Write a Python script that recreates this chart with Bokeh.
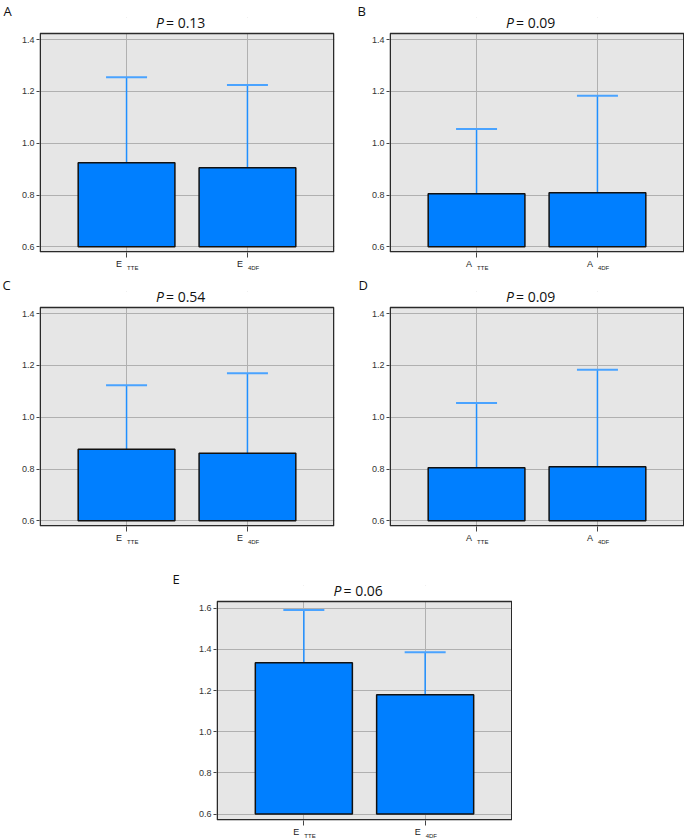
from bokeh.plotting import figure
from bokeh.models import (FactorRange, Range1d, FixedTicker, PrintfTickFormatter,
                          Label, Whisker, TeeHead, ColumnDataSource, BoxAnnotation)
from bokeh.layouts import column, row
from bokeh.embed import file_html
from bokeh.resources import INLINE

# ---------------- data ----------------
panel_letters = ["A", "B", "C", "D", "E"]
p_values = ["0.13", "0.09", "0.54", "0.09", "0.06"]

a_groups = ["E", "E"]
a_subs = ["TTE", "4DF"]
a_means = [0.925, 0.905]
a_upper = [1.255, 1.225]

b_groups = ["A", "A"]
b_subs = ["TTE", "4DF"]
b_means = [0.805, 0.809]
b_upper = [1.055, 1.184]

c_groups = ["E", "E"]
c_subs = ["TTE", "4DF"]
c_means = [0.876, 0.861]
c_upper = [1.124, 1.170]

d_groups = ["A", "A"]
d_subs = ["TTE", "4DF"]
d_means = [0.805, 0.809]
d_upper = [1.055, 1.184]

e_groups = ["E", "E"]
e_subs = ["TTE", "4DF"]
e_means = [1.335, 1.180]
e_upper = [1.592, 1.386]

ticks_small = [0.6, 0.8, 1.0, 1.2, 1.4]
ticks_large = [0.6, 0.8, 1.0, 1.2, 1.4, 1.6]

# ---------------- styles ----------------
BAR_FILL = "#007fff"
WHISKER = "#1f8fff"
CAP = "#4aa3ff"
FRAME_BG = "#e6e6e6"
GRID = "#b0b0b0"
TEXT = "#222222"
TITLE_FONT = "Open Sans"
TICK_FONT = "Liberation Sans"

TOP = 17        # space above frame (panel letter)
HEADER = 16     # part of frame above the plot area (title "P = ...")
BOTTOM = 6      # x tick marks


def blank_fig(width, height, x_range, bl, br):
    f = figure(width=width, height=height, x_range=x_range,
               y_range=Range1d(0, height), title=None,
               x_axis_location=None, y_axis_location=None,
               output_backend="svg", toolbar_location=None,
               min_border_left=bl, min_border_right=br,
               min_border_top=0, min_border_bottom=0)
    f.outline_line_color = None
    f.background_fill_color = None
    f.border_fill_color = "white"
    f.grid.visible = False
    return f


def make_panel(letter, pval, groups, subs, means, upper, ticks, plot_range,
               bl, br, plot_w, plot_h, footer_h, letter_dx):
    factors = [f"{g}_{s}" for g, s in zip(groups, subs)]
    y0, y1 = plot_range
    ppu = plot_h / (y1 - y0)
    y_end = y1 + HEADER / ppu
    frame_h = plot_h + HEADER
    width = bl + plot_w + br
    x_range = FactorRange(factors=factors, range_padding=0.22)

    p = figure(x_range=x_range, y_range=Range1d(y0, y_end),
               width=width, height=TOP + frame_h + BOTTOM, title=letter,
               output_backend="svg", toolbar_location=None,
               min_border_left=bl, min_border_right=br,
               min_border_top=TOP, min_border_bottom=BOTTOM)
    p.background_fill_color = "white"
    p.border_fill_color = "white"
    p.outline_line_color = None

    # panel letter as the plot title
    p.title.align = "left"
    p.title.offset = letter_dx
    p.title.standoff = -4
    p.title.text_font = TITLE_FONT
    p.title.text_font_size = "13px"
    p.title.text_font_style = "normal"
    p.title.text_color = "#111111"

    # grey plot area
    p.add_layout(BoxAnnotation(bottom=y0, top=y1, fill_color=FRAME_BG, fill_alpha=1,
                               line_color=None, level="image"))

    src = ColumnDataSource(dict(x=factors, top=means, upper=upper))
    p.vbar(x="x", top="top", bottom=ticks[0], width=0.8, source=src,
           fill_color=BAR_FILL, line_color="#111111", line_width=1.5)
    p.add_layout(Whisker(source=src, base="x", lower="top", upper="upper",
                         dimension="height", line_color=WHISKER, line_width=1.5,
                         upper_head=TeeHead(size=41, line_color=CAP, line_width=2),
                         lower_head=None))

    # white cover over the header part of the frame (hides grid lines there)
    p.add_layout(BoxAnnotation(bottom=y1, fill_color="white", fill_alpha=1,
                               line_color=None, level="underlay"))
    # plot-area outline
    p.add_layout(BoxAnnotation(left=0.75, right=plot_w - 0.75,
                               left_units="screen", right_units="screen",
                               bottom=0.75, bottom_units="screen", top=y1,
                               fill_color=None, fill_alpha=0,
                               line_color="#2a2a2a", line_alpha=1, line_width=1.5,
                               level="annotation"))

    p.yaxis.ticker = FixedTicker(ticks=ticks)
    p.yaxis.formatter = PrintfTickFormatter(format="%.1f")
    p.yaxis.major_label_text_font = TICK_FONT
    p.yaxis.major_label_text_font_size = "9px"
    p.yaxis.major_label_text_color = "#333333"
    p.yaxis.major_label_standoff = 2
    p.yaxis.major_tick_out = 3
    p.yaxis.major_tick_in = 0
    p.yaxis.minor_tick_line_color = None
    p.yaxis.axis_line_color = None
    p.yaxis.major_tick_line_color = "#444444"

    p.xaxis.major_label_text_font_size = "0px"
    p.xaxis.major_label_text_color = None
    p.xaxis.major_label_standoff = 0
    p.xaxis.major_tick_out = 5
    p.xaxis.major_tick_in = 0
    p.xaxis.axis_line_color = None
    p.xaxis.major_tick_line_color = "#444444"

    p.xgrid.grid_line_color = GRID
    p.ygrid.grid_line_color = GRID
    p.xgrid.grid_line_width = 1
    p.ygrid.grid_line_width = 1

    # title "P = x.xx" with italic P (inside the frame header strip)
    ty = plot_h + 11
    p.add_layout(Label(x=plot_w / 2 - 23, y=ty, x_units="screen", y_units="screen",
                       text="P", text_font=TITLE_FONT, text_font_style="italic",
                       text_font_size="14px", text_align="right",
                       text_baseline="alphabetic", text_color="#111111"))
    p.add_layout(Label(x=plot_w / 2 - 21, y=ty, x_units="screen", y_units="screen",
                       text="= " + pval, text_font=TITLE_FONT,
                       text_font_size="14px", text_align="left",
                       text_baseline="alphabetic", text_color="#111111"))

    # footer: category labels with subscripts
    f = blank_fig(width, footer_h, x_range, bl, br)
    for i, (g, s) in enumerate(zip(groups, subs)):
        xc = i + 0.5  # synthetic coordinate of the factor centre
        f.add_layout(Label(x=xc, y=footer_h, x_units="data", y_units="screen", text=g,
                           text_align="right", text_baseline="top", x_offset=-4.5,
                           text_font=TICK_FONT, text_font_size="9px", text_color=TEXT))
        f.add_layout(Label(x=xc, y=footer_h - 6, x_units="data", y_units="screen",
                           text=s, text_align="left", text_baseline="top", x_offset=0.5,
                           text_font=TICK_FONT, text_font_size="6px", text_color=TEXT))

    return column(p, f)


yr_small = (0.578, 1.424)
yr_large = (0.569, 1.633)

pA = make_panel(panel_letters[0], p_values[0], a_groups, a_subs, a_means, a_upper,
                ticks_small, yr_small, 39, 16, 295, 219, 16, -36)
pB = make_panel(panel_letters[1], p_values[1], b_groups, b_subs, b_means, b_upper,
                ticks_small, yr_small, 39, 0, 295, 219, 16, -32)
pC = make_panel(panel_letters[2], p_values[2], c_groups, c_subs, c_means, c_upper,
                ticks_small, yr_small, 39, 16, 295, 219, 36, -37)
pD = make_panel(panel_letters[3], p_values[3], d_groups, d_subs, d_means, d_upper,
                ticks_small, yr_small, 39, 0, 295, 219, 36, -31)
pE = make_panel(panel_letters[4], p_values[4], e_groups, e_subs, e_means, e_upper,
                ticks_large, yr_large, 216, 0, 296, 219, 12, -44)

layout = column(row(pA, pB), row(pC, pD), pE)

with open("out.html", "w") as fh:
    fh.write(file_html(layout, INLINE))
